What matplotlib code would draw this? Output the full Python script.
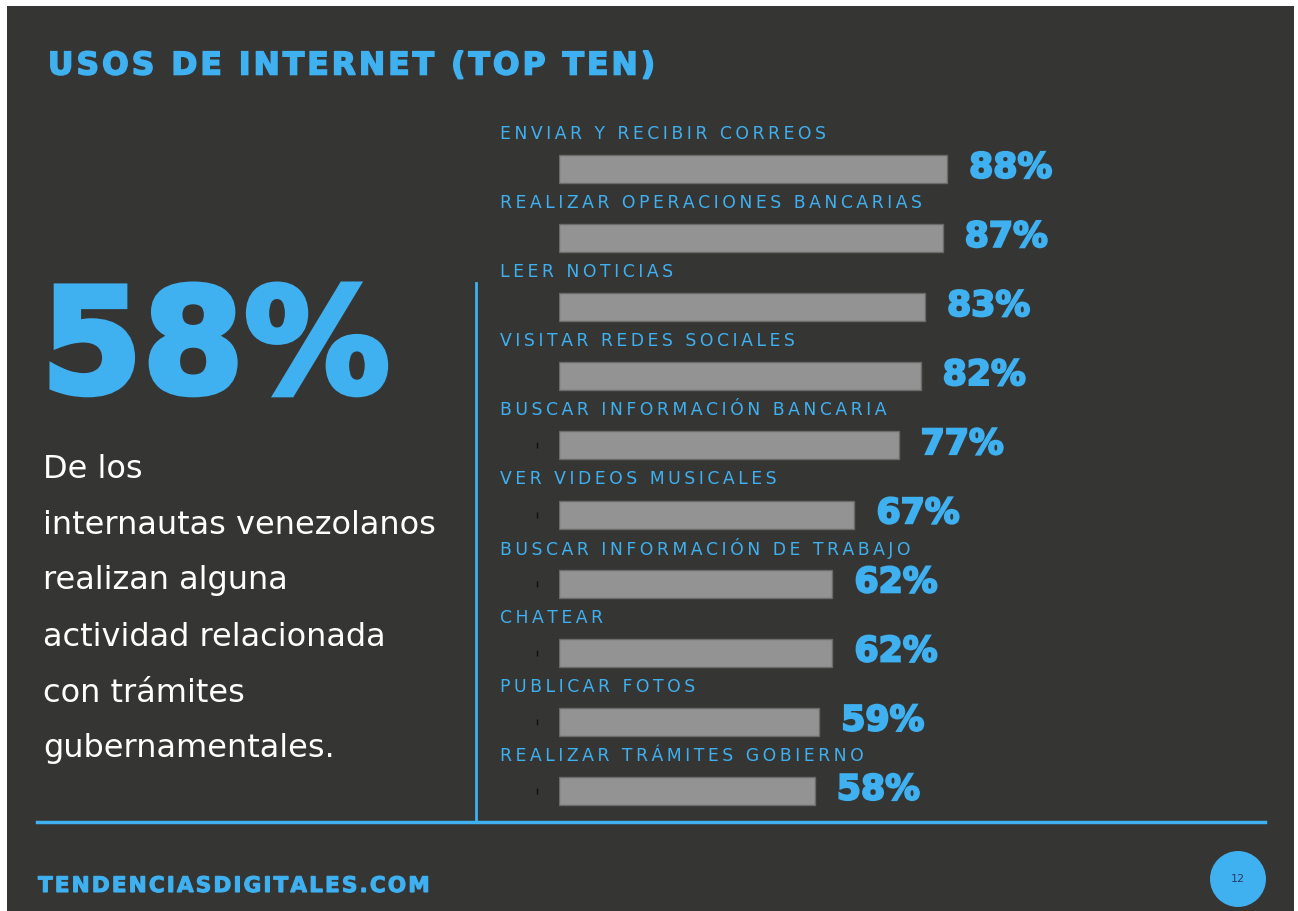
import matplotlib.pyplot as plt
import matplotlib.patheffects as pe
from matplotlib.patches import Rectangle, Circle
import numpy as np

# top ten internet uses (percent of users)
actividades = [
    "ENVIAR Y RECIBIR CORREOS",
    "REALIZAR OPERACIONES BANCARIAS",
    "LEER NOTICIAS",
    "VISITAR REDES SOCIALES",
    "BUSCAR INFORMACIÓN BANCARIA",
    "VER VIDEOS MUSICALES",
    "BUSCAR INFORMACIÓN DE TRABAJO",
    "CHATEAR",
    "PUBLICAR FOTOS",
    "REALIZAR TRÁMITES GOBIERNO",
]
porcentajes = [88, 87, 83, 82, 77, 67, 62, 62, 59, 58]

destacado = "58%"
parrafo = ["De los", "internautas venezolanos", "realizan alguna",
           "actividad relacionada", "con trámites", "gubernamentales."]

BG = '#353533'
BLUE = '#3fb0f0'
GRAY = '#939393'

W, H = 1298, 911


def fx(px):
    return px / W


def fy(py):
    return 1 - py / H


def spaced(s, sep='\u200a'):
    return sep.join(s)


def heavy(w):
    return [pe.withStroke(linewidth=w, foreground=BLUE, joinstyle='miter')]


fig = plt.figure(figsize=(W / 100, H / 100), dpi=100)
fig.patch.set_facecolor('white')
fig.patches.append(Rectangle((fx(7), 0), fx(1294) - fx(7), fy(6), transform=fig.transFigure,
                             facecolor=BG, edgecolor='none', zorder=-5))

# title and footer
fig.text(fx(48), fy(66), spaced("USOS DE INTERNET (TOP TEN)"), color=BLUE, fontsize=22.5,
         fontweight='bold', ha='left', va='center', family='DejaVu Sans',
         path_effects=heavy(1.2))
fig.text(fx(38), fy(886), spaced("TENDENCIASDIGITALES.COM"), color=BLUE, fontsize=15.5,
         fontweight='bold', ha='left', va='center', family='DejaVu Sans',
         path_effects=heavy(0.8))

# big number and description on the left
fig.text(fx(41), fy(352), destacado, color=BLUE, fontsize=105, fontweight='bold',
         ha='left', va='center', family='DejaVu Sans', path_effects=heavy(4))
for i, linea in enumerate(parrafo):
    fig.text(fx(43), fy(469 + i * 56), linea, color='white', fontsize=23,
             ha='left', va='center', family='DejaVu Sans')

# separator lines
fig.add_artist(plt.Line2D([fx(37), fx(1265)], [fy(822), fy(822)], color=BLUE, lw=2.5,
                          transform=fig.transFigure))
fig.add_artist(plt.Line2D([fx(476), fx(476)], [fy(283), fy(822)], color=BLUE, lw=2,
                          transform=fig.transFigure))

# page number badge
fig.patches.append(Circle((12.38, (H - 879) / 100), 0.28, transform=fig.dpi_scale_trans,
                          facecolor=BLUE, edgecolor='none'))
fig.text(fx(1238), fy(879), "12", color='#2b3d6b', fontsize=8, ha='center', va='center')

# bar chart
ax = fig.add_axes([fx(559), fy(825.5), 441 / W, 691 / H])
ax.set_facecolor('none')
y = np.arange(len(porcentajes))
ax.barh(y, porcentajes, height=0.405, color=GRAY, edgecolor='#6b6b6b', linewidth=1)
ax.set_xlim(0, 100)
ax.set_ylim(9.5, -0.5)
ax.axis('off')

ax.plot([-5] * 6, y[4:], marker='|', ls='none', color='#111111', markersize=4, clip_on=False)

for yi, nombre, v in zip(y, actividades, porcentajes):
    ax.text(-13.4, yi - 0.51, spaced(nombre, '\u2009'), color=BLUE, fontsize=12.4,
            ha='left', va='center', family='DejaVu Sans', clip_on=False)
    ax.text(v + 5, yi - 0.02, f"{v}%", color=BLUE, fontsize=25, fontweight='bold',
            ha='left', va='center', family='DejaVu Sans', clip_on=False,
            path_effects=heavy(1.5))

plt.savefig('out.png', dpi=100, facecolor=fig.get_facecolor())
